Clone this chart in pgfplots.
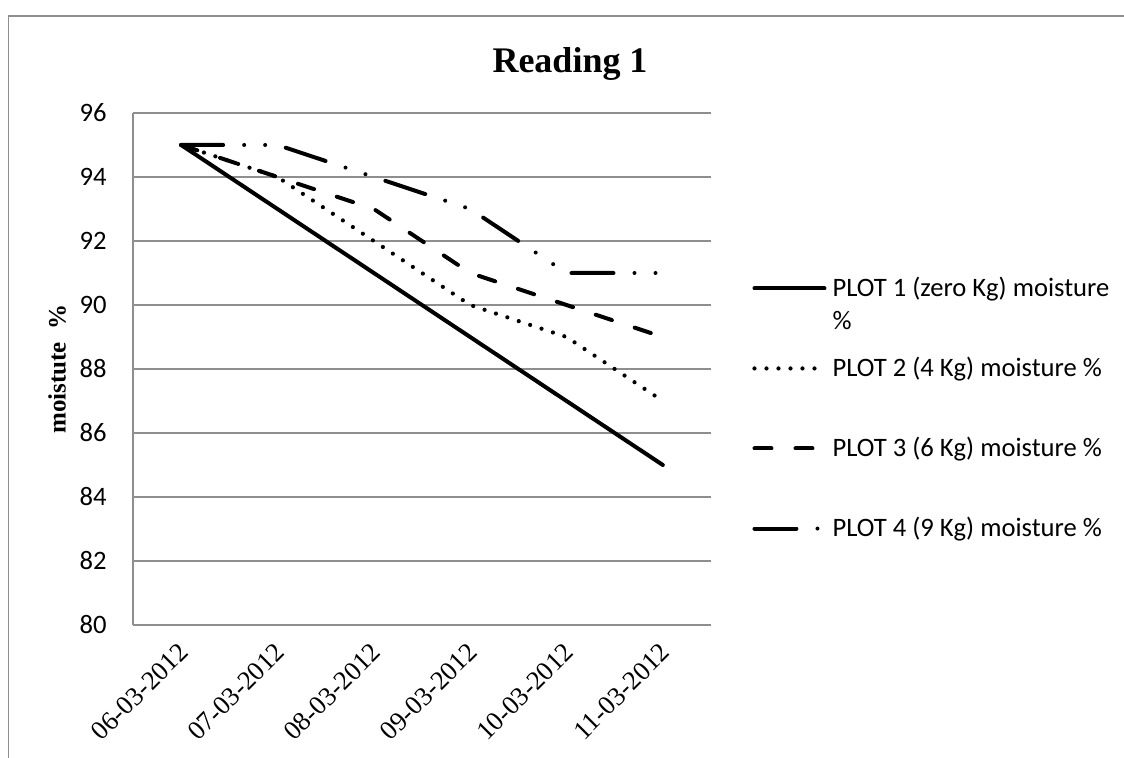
\documentclass[border=0pt]{standalone}
\usepackage{pgfplots}
\pgfplotsset{compat=1.18}
\usepackage{fontspec}
\setmainfont{Liberation Serif}
\newfontfamily\carlito{Carlito}
\newfontfamily\timesf{Liberation Serif}
\definecolor{gridgray}{HTML}{8E8E8E}
\newcommand\dl[1]{{\timesf\fontsize{13.3}{15}\selectfont #1}}

\begin{document}
\begin{tikzpicture}[x=1pt,y=1pt]
\useasboundingbox (0,0) rectangle (562,379);
% outer chart frame (only left and top edges visible)
\draw[gridgray, line width=0.8pt] (4.2,0) -- (4.2,371) -- (562,371);
\begin{axis}[
    at={(66.5pt,66.5pt)}, anchor=south west,
    scale only axis, width=289pt, height=256pt,
    xmin=-0.5, xmax=5.5, ymin=80, ymax=96,
    xtick={0,...,5},
    xticklabels={\dl{06-03-2012},\dl{07-03-2012},\dl{08-03-2012},\dl{09-03-2012},\dl{10-03-2012},\dl{11-03-2012}},
    ytick={80,82,...,96},
    axis x line*=bottom, axis y line*=left,
    axis line style={gridgray, line width=0.75pt, -},
    ymajorgrids, grid style={gridgray, line width=0.75pt},
    major tick length=0pt,
    x tick label style={inner sep=0pt, xshift=-2pt, yshift=-8pt, rotate=45, anchor=north east},
    y tick label style={font=\carlito\fontsize{13.3}{16}\selectfont,
        /pgf/number format/assume math mode=true, inner sep=0pt, xshift=-13pt},
    title={Reading 1},
    title style={font=\rmfamily\bfseries\fontsize{18}{20}\selectfont,
        at={(axis description cs:0.7561,1.0550)}, anchor=base},
    ylabel={moistute\ \ \%},
    ylabel style={font=\rmfamily\bfseries\fontsize{12.5}{14}\selectfont,
        at={(axis description cs:-0.1315,0.5)}, anchor=center},
    legend image code/.code={\draw[#1] (0pt,0pt) -- (35pt,0pt);},
    legend style={draw=none, fill=none, at={(axis description cs:1.0709,0.4229)},
        anchor=west, inner sep=0pt, row sep=28.8pt, column sep=3pt,
        font=\carlito\fontsize{13.3}{15}\selectfont,
        nodes={inner sep=0pt, anchor=west}},
    legend cell align=left,
]
\addplot[black, line width=2pt, line cap=round] coordinates {
    (0,95) (1,93) (2,91) (3,89) (4,87) (5,85)};
\addlegendentry{\makebox[0pt][l]{\raisebox{-16.5pt}[0pt][0pt]{\%}}PLOT 1 (zero Kg) moisture}
\addplot[black, line width=2.1pt, line cap=round, dash pattern=on 0pt off 6pt] coordinates {
    (0,95) (1,94) (2,92) (3,90) (4,89) (5,87)};
\addlegendentry{PLOT 2 (4 Kg) moisture \%}
\addplot[black, line width=2pt, line cap=round, dash pattern=on 8.5pt off 12pt] coordinates {
    (0,95) (1,94) (2,93) (3,91) (4,90) (5,89)};
\addlegendentry{PLOT 3 (6 Kg) moisture \%}
\addplot[black, line width=2pt, line cap=round,
    dash pattern=on 21pt off 10.5pt on 0pt off 10.5pt on 0pt off 10.5pt] coordinates {
    (0,95) (1,95) (2,94) (3,93) (4,91) (5,91)};
\addlegendentry{PLOT 4 (9 Kg) moisture \%}
\end{axis}
\end{tikzpicture}
\end{document}
